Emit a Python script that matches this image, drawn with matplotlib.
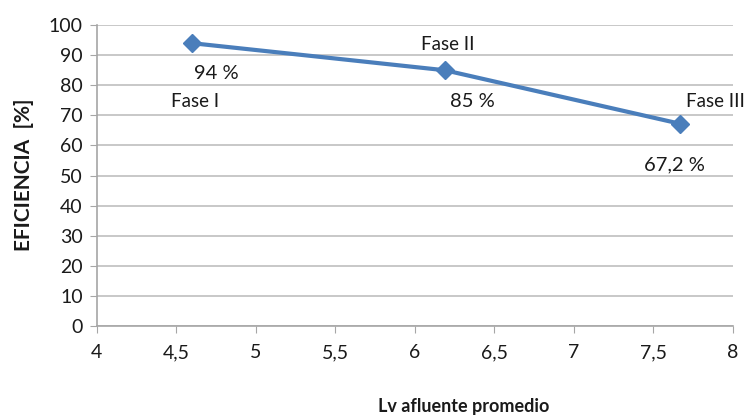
import matplotlib.pyplot as plt
from matplotlib.ticker import FuncFormatter, MultipleLocator

# datos
lv = [4.6, 6.19, 7.67]
eficiencia = [94, 85, 67.2]
fases = ["Fase I", "Fase II", "Fase III"]
etiquetas = ["94 %", "85 %", "67,2 %"]

plt.rcParams["font.family"] = ["Lato", "DejaVu Sans"]

fig = plt.figure(figsize=(7.44, 4.19), dpi=100)
ax = fig.add_axes([0.130, 0.222, 0.855, 0.718])

ax.plot(lv, eficiencia, color="#4a7ebb", linewidth=3, marker="D",
        markersize=9, zorder=3)

# etiquetas de los puntos
pos_fase = [(4.62, 74.5), (6.21, 93.5), (7.89, 74.5)]
pos_val = [(4.75, 84), (6.36, 74.5), (7.63, 53.5)]
for f, (x, y) in zip(fases, pos_fase):
    ax.text(x, y, f, fontsize=13.5, ha="center", va="center", color="#1a1a1a")
for e, (x, y) in zip(etiquetas, pos_val):
    ax.text(x, y, e, fontsize=14.5, ha="center", va="center", color="#1a1a1a")

ax.set_xlim(4, 8)
ax.set_ylim(0, 100)
ax.xaxis.set_major_locator(MultipleLocator(0.5))
ax.yaxis.set_major_locator(MultipleLocator(10))
ax.xaxis.set_major_formatter(FuncFormatter(lambda v, p: f"{v:g}".replace(".", ",")))
ax.grid(axis="y", color="#bfbfbf", linewidth=1.2)
ax.set_axisbelow(True)

for s in ["top", "right"]:
    ax.spines[s].set_visible(False)
for s in ["left", "bottom"]:
    ax.spines[s].set_color("#a6a6a6")
    ax.spines[s].set_linewidth(1.2)
ax.tick_params(colors="#a6a6a6", labelcolor="#1a1a1a", labelsize=14, length=5)
ax.tick_params(axis="x", pad=8)
ax.tick_params(axis="y", pad=5)

fig.text(0.032, 0.582, "EFICIENCIA  [%]", rotation=90, fontsize=15,
         fontweight="bold", ha="center", va="center", color="#1a1a1a")
fig.text(0.623, 0.031, "Lv afluente promedio", fontsize=13,
         fontweight="bold", ha="center", va="center", color="#1a1a1a")

fig.savefig("out.png", dpi=100)
